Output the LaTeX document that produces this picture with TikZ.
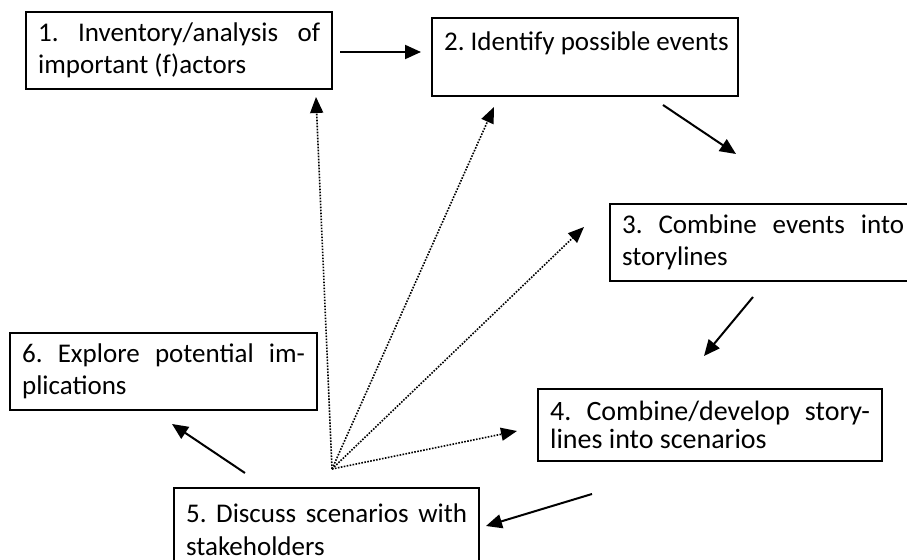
\documentclass[tikz,border=0pt]{standalone}
\usepackage{fontspec}
\setmainfont{Carlito}
\usepackage{tikz}
\usetikzlibrary{positioning}
\usetikzlibrary{arrows.meta}
\frenchspacing

\begin{document}
\begin{tikzpicture}[
    x=0.5pt, y=-0.5pt,
    stepbox/.style={
        draw,
        line width=1.1pt,
        anchor=north west,
        inner xsep=6pt,
        inner ysep=3pt,
        minimum height=38.5pt,
        text width=#1,
        align=justify,
        font=\fontsize{13.5pt}{16.2pt}\selectfont
    },
    flow/.style={-{Triangle[length=8pt,width=7pt]}, line width=1pt},
    talk/.style={-{Triangle[length=8pt,width=6.5pt]}, line width=0.8pt,
        dash pattern=on 0.8pt off 0.7pt}
]

    \useasboundingbox (0,0) rectangle (907,560);

    % Boxes
    \node[stepbox=141pt] (inventory) at (25,11)
        {1. Inventory/analysis of\linebreak important (f)actors};
    \node[stepbox=141pt, minimum height=39pt] (events) at (431,17)
        {\mbox{2. Identify possible events}\\ \mbox{}};
    \node[stepbox=141pt] (storylines) at (609,203)
        {3. Combine events into\linebreak storylines};
    \node[stepbox=160pt, minimum height=36pt,
          font=\fontsize{14pt}{14.2pt}\selectfont] (scenarios) at (537,388)
        {4. Combine/develop story-\linebreak lines into scenarios};
    \node[stepbox=140.5pt, minimum height=41.5pt] (discuss) at (173,487)
        {5. Discuss scenarios with\linebreak stakeholders};
    \node[stepbox=141.5pt] (explore) at (9,332)
        {6. Explore potential im-\linebreak plications};

    % Solid arrows
    \coordinate (s12) at (340,52);    \coordinate (e12) at (421,52);
    \coordinate (s23) at (663,105);   \coordinate (e23) at (736,154);
    \coordinate (s34) at (753,297);   \coordinate (e34) at (704,356);
    \coordinate (s45) at (592,494);   \coordinate (e45) at (486,526);
    \coordinate (s56) at (245,473);   \coordinate (e56) at (172,424);

    \draw[flow] (s12) -- (e12);
    \draw[flow] (s23) -- (e23);
    \draw[flow] (s34) -- (e34);
    \draw[flow] (s45) -- (e45);
    \draw[flow] (s56) -- (e56);

    % Dotted arrows
    \coordinate (hub) at (332,469);
    \coordinate (t1) at (316,97);
    \coordinate (t2) at (494,107);
    \coordinate (t3) at (584,227);
    \coordinate (t4) at (517,431);

    \foreach \t in {t1,t2,t3,t4}
        \draw[talk] (hub) -- (\t);

\end{tikzpicture}
\end{document}
